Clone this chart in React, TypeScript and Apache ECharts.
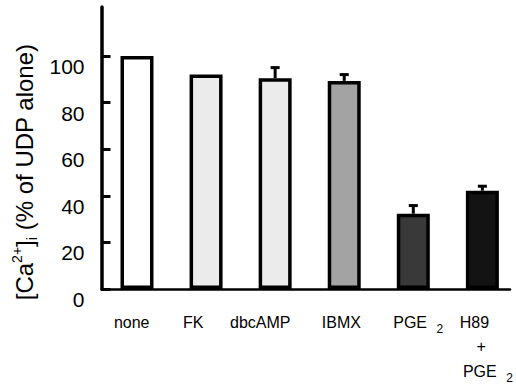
import React, { useEffect, useRef } from 'react';
import * as echarts from 'echarts';

const categories = ['none', 'FK', 'dbcAMP', 'IBMX', 'PGE2', 'H89 + PGE2'];
const positions = [0, 1, 2, 3, 4, 5];
const values = [100, 92, 90.4, 89.3, 32.3, 42.2];
const errors = [0, 0, 4.6, 2.7, 3.5, 1.9];
const barColors = ['#ffffff', '#ebebeb', '#ebebeb', '#a3a3a3', '#393939', '#131313'];
const yTicks = [0, 20, 40, 60, 80, 100];
const labelText = [
  '{a0|none}',
  '{a1|FK}',
  '{a2|dbcAMP}',
  '{a3|IBMX}',
  '{a4|PGE }{s|2}',
  '{h|H89}\n{p|+}\n{a5|PGE }{s|2}',
];
const yTitle = '[Ca{sup|2+}]{sub|i} (% of UDP alone)';

const FONT = '"Liberation Sans", Arial, Helvetica, sans-serif';

export default function App() {
  const ref = useRef<HTMLDivElement>(null);
  useEffect(() => {
    document.body.style.margin = '0';
    const chart = echarts.init(ref.current!, null, { renderer: 'svg' });
    const base = { fontFamily: FONT, fontSize: 16, color: '#000', lineHeight: 24.5 };
    const sub = { fontFamily: FONT, fontSize: 12, color: '#000', lineHeight: 6, padding: [14, 0, 0, 5] };
    chart.setOption({
      animation: false,
      backgroundColor: '#fff',
      grid: { left: 101.5, right: 6, top: 7, bottom: 96, containLabel: false, outerBoundsMode: 'none' },
      xAxis: {
        type: 'value',
        min: -0.514,
        max: 5.4,
        splitLine: { show: false },
        axisTick: { show: false },
        axisLine: { show: true, onZero: false, lineStyle: { color: '#000', width: 2.5 } },
        axisLabel: {
          customValues: positions,
          formatter: (v: number) => labelText[Math.round(v)] ?? '',
          margin: 21,
          ...base,
          rich: {
            a0: { ...base, padding: [0, 10.6, 0, 0] },
            a1: { ...base, padding: [0, 25.6, 0, 0] },
            a2: { ...base, padding: [0, 29.8, 0, 0] },
            a3: { ...base, padding: [0, 5.6, 0, 0] },
            a4: { ...base, padding: [0, 0, 0, 9.8] },
            h: { ...base, padding: [0, 16, 0, 0] },
            p: { ...base, padding: [0, 2.4, 0, 0] },
            a5: { ...base, padding: [0, 0, 0, 11] },
            s: sub,
          },
        },
      },
      yAxis: {
        type: 'value',
        min: 0,
        max: 121,
        interval: 20,
        splitLine: { show: false },
        axisLine: { show: true, onZero: false, lineStyle: { color: '#000', width: 3.5 } },
        axisTick: { show: true, inside: true, length: 9, customValues: yTicks, lineStyle: { color: '#000', width: 3 } },
        axisLabel: {
          customValues: yTicks,
          margin: 17,
          fontFamily: FONT,
          fontSize: 21,
          lineHeight: 21,
          color: '#000',
          verticalAlign: 'top',
        },
        name: yTitle,
        nameLocation: 'middle',
        nameRotate: 90,
        nameGap: 60,
        nameTextStyle: {
          fontFamily: FONT,
          fontSize: 24,
          color: '#000',
          lineHeight: 26,
          padding: [0, 48, 0, 0],
          rich: {
            sup: { fontFamily: FONT, fontSize: 14, color: '#000', lineHeight: 6, padding: [0, 0, 15, 0] },
            sub: { fontFamily: FONT, fontSize: 14, color: '#000', lineHeight: 6, padding: [15, 0, 0, 0] },
          },
        },
      },
      series: [
        {
          type: 'bar',
          name: 'response',
          barWidth: 33,
          itemStyle: { borderColor: '#000', borderWidth: 3.5 },
          data: positions.map((p, i) => ({
            name: categories[i],
            value: [p, values[i]],
            itemStyle: { color: barColors[i] },
          })),
        },
        {
          type: 'custom',
          name: 'error',
          z: 3,
          data: positions
            .map((p, i) => [p, values[i], errors[i]])
            .filter((d) => d[2] > 0),
          renderItem: (params: any, api: any) => {
            const x = api.value(0);
            const v = api.value(1);
            const e = api.value(2);
            const b = api.coord([x, v]);
            const t = api.coord([x, v + e]);
            return {
              type: 'group',
              children: [
                {
                  type: 'line',
                  shape: { x1: b[0], y1: b[1], x2: t[0], y2: t[1] },
                  style: { stroke: '#000', lineWidth: 3 },
                },
                {
                  type: 'line',
                  shape: { x1: t[0] - 4.5, y1: t[1], x2: t[0] + 4.5, y2: t[1] },
                  style: { stroke: '#000', lineWidth: 3 },
                },
              ],
            };
          },
        },
      ],
    });
    return () => chart.dispose();
  }, []);
  return <div ref={ref} style={{ position: 'absolute', left: 0, top: 0, width: 516, height: 385 }} />;
}
